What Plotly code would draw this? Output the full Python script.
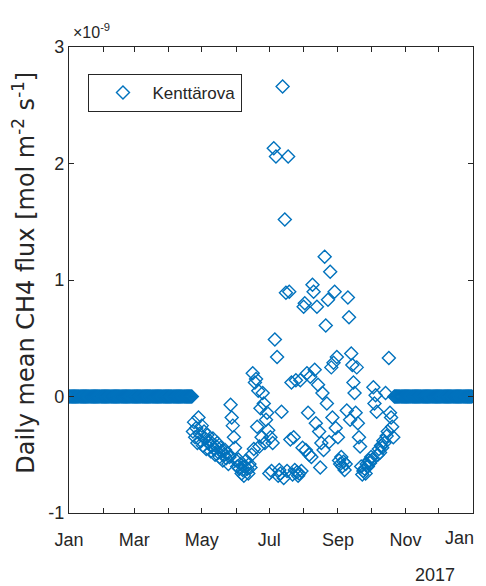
import pandas as pd
import plotly.graph_objects as go

YEAR_START = pd.Timestamp("2017-01-01")

# Measured daily mean CH4 flux (units of 1e-9 mol m-2 s-1), consecutive days
# starting at day-of-year offset FIRST_DAY (0 = Jan 1)
FIRST_DAY = 112
flux = [
    -0.30, -0.22, -0.35, -0.27, -0.40, -0.18, -0.32, -0.38, -0.25, -0.42,
    -0.30, -0.36, -0.45, -0.33, -0.40, -0.38, -0.47, -0.42, -0.36, -0.45,
    -0.50, -0.43, -0.40, -0.48, -0.52, -0.44, -0.47, -0.55, -0.50, -0.46,
    -0.53, -0.49, -0.58, -0.52, -0.07, -0.18, -0.25, -0.35, -0.44, -0.55,
    -0.60, -0.54, -0.62, -0.58, -0.66, -0.63, -0.68, -0.60, -0.55, -0.62,
    -0.66, -0.58, -0.61, -0.50, 0.20, -0.45, 0.12, 0.15, -0.26, 0.05,
    -0.43, -0.10, -0.35, 0.03, -0.06, -0.40, -0.20, -0.14, -0.29, -0.66,
    -0.35, -0.64, -0.40, 2.13, 0.49, 2.06, 0.34, -0.68, -0.63, -0.66,
    -0.13, 2.66, -0.70, 1.52, 0.89, -0.64, 2.06, 0.90, -0.37, 0.12,
    -0.67, -0.35, -0.63, 0.14, -0.65, -0.68, -0.66, 0.14, -0.64, -0.44,
    0.77, 0.80, -0.46, 0.20, -0.14, -0.50, 0.17, -0.52, 0.96, 0.90,
    0.23, -0.23, 0.77, 0.10, -0.30, -0.61, -0.40, 0.03, -0.46, 1.20,
    0.61, -0.06, 0.83, -0.39, 1.07, 0.25, -0.18, 0.29, 0.90, -0.27,
    0.34, -0.35, -0.55, -0.58, -0.52, -0.60, -0.56, -0.63, -0.58, -0.12,
    0.85, 0.68, -0.20, 0.37, 0.27, 0.12, 0.03, -0.14, 0.25, -0.23,
    -0.35, -0.43, -0.60, -0.67, -0.64, -0.62, -0.66, -0.58, -0.60, -0.55,
    -0.57, -0.52, -0.54, 0.08, -0.06, 0.01, -0.13, -0.50, -0.45, -0.48,
    -0.42, -0.44, -0.38, -0.40, 0.03, -0.34, -0.30, 0.33, -0.14, -0.18,
    -0.26, -0.35,
]

# Periods with zero flux (winter)
zero_periods = [("2017-01-01", "2017-04-22"), ("2017-10-22", "2017-12-31")]

month_ticks = pd.date_range("2017-01-01", "2018-01-01", freq="MS")
month_labels = ["Jan", "", "Mar", "", "May", "", "Jul", "", "Sep", "", "Nov", "", "Jan"]
y_ticks = [-1, 0, 1, 2, 3]
y_labels = ["-1", "0", "1", "2", "3"]

meas_dates = YEAR_START + pd.to_timedelta(range(FIRST_DAY, FIRST_DAY + len(flux)), unit="D")
zero_dates = pd.DatetimeIndex([])
for a, b in zero_periods:
    zero_dates = zero_dates.append(pd.date_range(a, b, freq="D"))
zero_flux = [0.0] * len(zero_dates)

n_before = int((zero_dates < meas_dates[0]).sum())
all_dates = list(zero_dates[:n_before]) + list(meas_dates) + list(zero_dates[n_before:])
all_flux = zero_flux[:n_before] + flux + zero_flux[n_before:]

BLUE = "#0072BD"
AX = "#262626"
SANS = "Liberation Sans, Arial, sans-serif"

# the last tick label sits at the figure edge; it is drawn as right-aligned text
axis_ticktext = month_labels[:-1] + [""]

fig = go.Figure()
fig.add_trace(go.Scatter(
    x=all_dates, y=all_flux, mode="markers", name="\u00a0\u00a0Kenttärova",
    marker=dict(symbol="diamond-open", size=10, color=BLUE, line=dict(width=1.4, color=BLUE)),
))

fig.update_layout(
    width=478, height=578,
    margin=dict(l=61, r=13, t=39, b=73),
    paper_bgcolor="white", plot_bgcolor="white",
    showlegend=True,
    legend=dict(
        x=0.047, y=0.942, xanchor="left", yanchor="top",
        bordercolor=AX, borderwidth=1, bgcolor="white",
        font=dict(family=SANS, size=17, color=AX),
        indentation=14,
    ),
    xaxis=dict(
        range=["2017-01-01", "2018-01-01 00:30"], tickvals=month_ticks, ticktext=axis_ticktext,
        ticks="inside", ticklen=5, tickcolor=AX, showline=True, linecolor=AX, linewidth=1.4,
        mirror="ticks", showgrid=False, zeroline=False, automargin=False,
        ticklabelstandoff=10,
        tickfont=dict(family=SANS, size=18, color=AX),
    ),
    yaxis=dict(
        range=[-1, 3], tickvals=y_ticks, ticktext=y_labels,
        ticks="inside", ticklen=5, tickcolor=AX, showline=True, linecolor=AX, linewidth=1.4,
        mirror="ticks", showgrid=False, zeroline=False, automargin=False,
        tickfont=dict(family=SANS, size=18, color=AX),
    ),
    annotations=[
        dict(text=month_labels[-1], x=1.008, y=-0.054, xref="paper", yref="paper",
             xanchor="right", yanchor="middle", showarrow=False,
             font=dict(family=SANS, size=18, color=AX)),
        dict(text="×10<sup>-9</sup>", x=0.005, y=1.035, xref="paper", yref="paper",
             xanchor="left", yanchor="middle", showarrow=False,
             font=dict(family=SANS, size=16, color=AX)),
        dict(text="2017", x=0.906, y=-0.133, xref="paper", yref="paper",
             xanchor="center", yanchor="middle", showarrow=False,
             font=dict(family=SANS, size=18, color=AX)),
        dict(text="Daily mean CH4 flux [mol m<sup>-2</sup> s<sup>-1</sup>]",
             x=-0.112, y=0.515, xref="paper", yref="paper", textangle=-90,
             xanchor="center", yanchor="middle", showarrow=False,
             font=dict(family="DejaVu Sans, Liberation Sans, sans-serif", size=24, color=AX)),
    ],
)

fig.write_html("out.html")
